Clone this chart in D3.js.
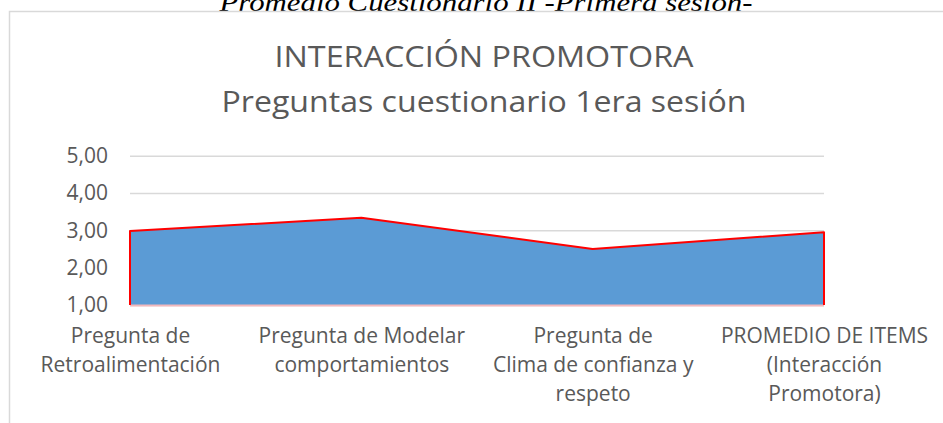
<!DOCTYPE html>
<html>
<head>
<meta charset="utf-8">
<script src="https://cdn.jsdelivr.net/npm/d3@7"></script>
<style>
  html, body { margin: 0; padding: 0; background: #fff; }
  svg { display: block; }
</style>
</head>
<body>
<svg id="chart" width="943" height="423"></svg>
<script>
const caption = "Promedio Cuestionario II -Primera sesión-";
const titleLines = ["INTERACCIÓN PROMOTORA", "Preguntas cuestionario 1era sesión"];
const categories = [
  "Pregunta de Retroalimentación",
  "Pregunta de Modelar comportamientos",
  "Pregunta de Clima de confianza y respeto",
  "PROMEDIO DE ITEMS (Interacción Promotora)"
];
const categoryLines = [
  ["Pregunta de", "Retroalimentación"],
  ["Pregunta de Modelar", "comportamientos"],
  ["Pregunta de", "Clima de confianza y", "respeto"],
  ["PROMEDIO DE ITEMS", "(Interacción", "Promotora)"]
];
const values = [2.98, 3.34, 2.50, 2.95];
const yTicks = [1, 2, 3, 4, 5];

const svg = d3.select("#chart");
const font = "'Open Sans', 'DejaVu Sans', sans-serif";
const textColor = "#595959";

const plot = { left: 130, right: 824, top: 155.7, bottom: 305 };

const x = d3.scalePoint().domain(categories).range([plot.left, plot.right]).padding(0);
const y = d3.scaleLinear().domain([1, 5]).range([plot.bottom, plot.top]);

// caption above the chart (cut off at top)
svg.append("text")
  .attr("x", 486).attr("y", 11)
  .attr("text-anchor", "middle")
  .attr("font-family", "'Liberation Serif', 'DejaVu Serif', serif")
  .attr("font-style", "italic")
  .attr("font-size", 25)
  .attr("fill", "#000")
  .attr("textLength", 533)
  .attr("lengthAdjust", "spacingAndGlyphs")
  .text(caption);

// chart border
svg.append("path")
  .attr("d", "M9.5,430 V11.5 H960")
  .attr("fill", "none")
  .attr("stroke", "#d9d9d9")
  .attr("stroke-width", 1.5);

// title
const titleY = [67, 112];
const titleW = [419, 525];
titleLines.forEach((t, i) => {
  svg.append("text")
    .attr("x", 484).attr("y", titleY[i])
    .attr("text-anchor", "middle")
    .attr("font-family", font)
    .attr("font-size", 30)
    .attr("fill", textColor)
    .attr("textLength", titleW[i])
    .attr("lengthAdjust", "spacingAndGlyphs")
    .text(t);
});

// y axis with gridlines
const yAxis = d3.axisLeft(y)
  .tickValues(yTicks)
  .tickSize(-(plot.right - plot.left))
  .tickPadding(22)
  .tickFormat(d => d3.format(".2f")(d).replace(".", ","));

const gy = svg.append("g")
  .attr("transform", `translate(${plot.left},0)`)
  .call(yAxis);
gy.select(".domain").remove();
gy.selectAll(".tick line")
  .attr("stroke", "#d9d9d9")
  .attr("stroke-width", 1.5);
gy.selectAll(".tick text")
  .attr("font-family", font)
  .attr("font-size", 21)
  .attr("fill", textColor);

// area
const area = d3.area()
  .x((d, i) => x(categories[i]))
  .y0(y(1))
  .y1(d => y(d));

svg.append("path")
  .datum(values)
  .attr("d", area)
  .attr("fill", "#5b9bd5");

// bottom (pinkish) edge
svg.append("line")
  .attr("x1", x(categories[0])).attr("x2", x(categories[categories.length - 1]))
  .attr("y1", y(1) + 0.5).attr("y2", y(1) + 0.5)
  .attr("stroke", "#f2b8bc")
  .attr("stroke-width", 2);

// red outline: left edge, top line, right edge
const outline = d3.line()
  .x(d => d[0])
  .y(d => d[1]);
const outlinePts = [[x(categories[0]), y(1)]]
  .concat(values.map((v, i) => [x(categories[i]), y(v)]))
  .concat([[x(categories[categories.length - 1]), y(1)]]);
svg.append("path")
  .attr("d", outline(outlinePts))
  .attr("fill", "none")
  .attr("stroke", "#ff0000")
  .attr("stroke-width", 2)
  .attr("stroke-linejoin", "round");

// x axis labels
const xAxis = d3.axisBottom(x).tickSize(0).tickFormat("");
const gx = svg.append("g")
  .attr("transform", `translate(0,${plot.bottom})`)
  .call(xAxis);
gx.select(".domain").remove();
gx.selectAll(".tick").each(function(d, i) {
  const t = d3.select(this).append("text")
    .attr("text-anchor", "middle")
    .attr("font-family", font)
    .attr("font-size", 21)
    .attr("fill", textColor);
  categoryLines[i].forEach((line, j) => {
    t.append("tspan")
      .attr("x", 0)
      .attr("y", 38 + j * 29)
      .text(line);
  });
});
</script>
</body>
</html>
